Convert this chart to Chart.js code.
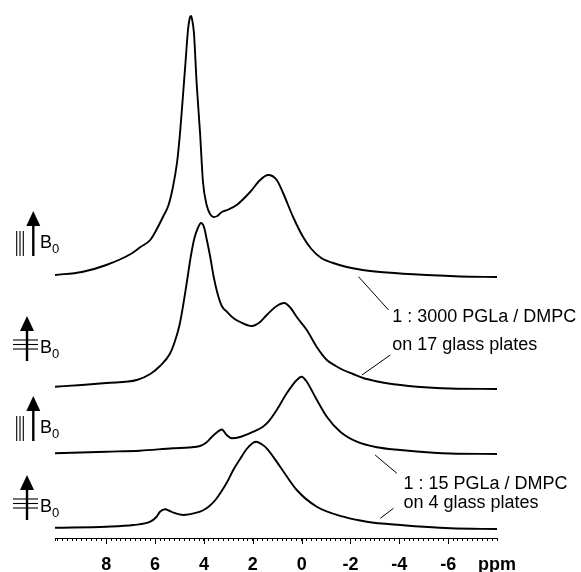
<!DOCTYPE html>
<html>
<head>
<meta charset="utf-8">
<script src="https://cdn.jsdelivr.net/npm/chart.js@4.4.1/dist/chart.umd.min.js"></script>
<style>
html,body{margin:0;padding:0;background:#fff;}
#wrap{width:581px;height:572px;position:relative;}
</style>
</head>
<body>
<div id="wrap"><canvas id="c"></canvas></div>
<script>
// ---- Data (chemical shift in ppm, intensity in arbitrary units above each trace's baseline) ----
// Trace 1 (top): 1:3000 PGLa/DMPC, membrane normal parallel to B0
const ppm1 = [10.1, 9.0, 8.0, 7.0, 6.6, 6.2, 5.93, 5.68, 5.45, 5.27, 5.1, 4.98, 4.87, 4.77, 4.65, 4.59, 4.53, 4.49, 4.41, 4.30, 4.16, 4.04, 3.89, 3.75, 3.6, 3.45, 3.27, 3.05, 2.66, 2.11, 1.70, 1.37, 1.02, 0.76, 0.35, -0.06, -0.4, -0.8, -1.29, -1.85, -2.5, -3.22, -4.57, -6.5, -8.0];
const int1 = [2, 5, 12, 23, 30, 37, 48, 60, 72, 90, 115, 144, 178, 210, 248, 258, 261, 258, 244, 194, 144, 95, 72, 63, 60, 61, 65, 67, 72, 85, 97, 102, 97, 84, 60, 40, 28, 19, 14, 10, 7, 5, 2.7, 0.5, 0];
// Trace 2: 1:3000 PGLa/DMPC, membrane normal perpendicular to B0
const ppm2 = [10.1, 9.0, 8.0, 6.75, 6.2, 5.8, 5.4, 5.2, 5.0, 4.85, 4.7, 4.55, 4.4, 4.25, 4.12, 4.0, 3.89, 3.75, 3.6, 3.45, 3.27, 3.05, 2.8, 2.52, 2.04, 1.7, 1.43, 1.02, 0.72, 0.45, 0.2, -0.21, -0.62, -1.03, -1.4, -1.7, -2.1, -2.52, -3.0, -3.49, -4.72, -6.09, -8.0];
const int2 = [2.3, 4, 6, 9, 15, 23, 35, 47, 64, 84, 107, 131, 150, 161, 166, 162, 150, 133, 112, 96, 83, 77, 71, 67, 63, 67, 74, 83, 86, 81, 72, 59, 42, 29, 23, 19, 15, 11, 8, 5.7, 2.3, 0.5, 0];
// Trace 3: 1:15 PGLa/DMPC, parallel
const ppm3 = [10.1, 8.0, 6.62, 5.27, 4.6, 4.16, 3.9, 3.7, 3.45, 3.27, 3.07, 2.85, 2.52, 1.98, 1.6, 1.36, 1.02, 0.61, 0.2, 0.0, -0.21, -0.55, -1.03, -1.58, -2.26, -3.08, -4.04, -5.4, -6.09, -8.0];
const int3 = [0.7, 2.3, 3.3, 5.7, 6.5, 8, 11.5, 16.5, 22, 24.5, 19, 15.7, 17, 22.3, 27, 32.3, 44, 60.7, 74, 77.3, 72.3, 57.3, 37.3, 22.3, 12.3, 6.7, 4, 1.3, 0.5, 0];
// Trace 4 (bottom): 1:15 PGLa/DMPC, perpendicular
const ppm4 = [10.1, 8.0, 6.89, 6.2, 5.95, 5.8, 5.59, 5.4, 5.25, 4.84, 4.3, 4.05, 3.8, 3.55, 3.3, 3.05, 2.8, 2.52, 2.25, 2.0, 1.86, 1.65, 1.43, 0.88, 0.2, -0.62, -1.71, -2.67, -4.04, -6.09, -8.0];
const int4 = [1.3, 2.3, 4, 7.3, 12, 17.3, 19.7, 18, 16.3, 14, 16.3, 18.5, 22.5, 28.5, 37, 47, 59, 70, 80, 86, 87.3, 85, 80.7, 62.3, 39, 22.3, 12.3, 7.3, 4, 0.7, 0];

// vertical stacking of the four spectra (arbitrary units)
const stackOffsets = [261, 149, 84, 9];
const orientations = ['par', 'perp', 'par', 'perp'];

// axis
const xMin = -8.0, xMax = 10.1;
const xTickStep = 0.2;
const xTickLabels = [8, 6, 4, 2, 0, -2, -4, -6];
const unitTickValue = -8;
const unitLabel = 'ppm';

// sample annotations
const sampleText1 = ['1 : 3000 PGLa / DMPC', 'on 17 glass plates'];
const sampleText2 = ['1 : 15 PGLa / DMPC', 'on 4 glass plates'];

// ---- Build ----
const ppmSets = [ppm1, ppm2, ppm3, ppm4];
const intSets = [int1, int2, int3, int4];
const datasets = ppmSets.map((p, k) => ({
  data: p.map((x, i) => ({x: x, y: intSets[k][i] + stackOffsets[k]})),
  borderColor: '#000',
  borderWidth: 1.9,
  pointRadius: 0,
  fill: false,
  cubicInterpolationMode: 'monotone'
}));

const FONT = '"Liberation Sans", Arial, Helvetica, sans-serif';

// annotation geometry in data space (ppm, a.u.)
const leaders = [
  [[-2.33, 261.3], [-3.56, 228]],
  [[-2.47, 163], [-3.63, 183]],
  [[-3.01, 83], [-3.90, 64.7]],
  [[-3.22, 19.7], [-3.76, 29.7]]
];
const textAnchors = [
  {x: -3.71, ys: [216, 188], lines: sampleText1},
  {x: -4.17, ys: [48.7, 29.7], lines: sampleText2}
];
const symbolBase = [290, 185, 105, 26];

function drawB0(ctx, type, xl, yb) {
  ctx.save();
  ctx.fillStyle = '#000';
  ctx.strokeStyle = '#000';
  const sx = type === 'par' ? xl - 21.7 : xl - 28;
  ctx.beginPath();
  ctx.moveTo(sx, yb - 37);
  ctx.lineTo(sx - 7, yb - 22);
  ctx.lineTo(sx + 7, yb - 22);
  ctx.closePath();
  ctx.fill();
  ctx.lineWidth = 2.4;
  ctx.beginPath();
  ctx.moveTo(sx, yb - 24);
  ctx.lineTo(sx, yb + 8);
  ctx.stroke();
  ctx.lineWidth = 1.1;
  if (type === 'par') {
    [-16.6, -13.3, -10].forEach(dx => {
      ctx.beginPath();
      ctx.moveTo(sx + dx, yb - 17);
      ctx.lineTo(sx + dx, yb + 8);
      ctx.stroke();
    });
  } else {
    [-13, -8.5, -4].forEach(dy => {
      ctx.beginPath();
      ctx.moveTo(xl - 42, yb + dy);
      ctx.lineTo(xl - 17, yb + dy);
      ctx.stroke();
    });
  }
  ctx.textBaseline = 'alphabetic';
  ctx.textAlign = 'left';
  ctx.font = '18px ' + FONT;
  ctx.fillText('B', xl - 15, yb);
  ctx.font = '13px ' + FONT;
  ctx.fillText('0', xl - 3, yb + 5);
  ctx.restore();
}

const annotPlugin = {
  id: 'annot',
  afterDraw(chart) {
    const ctx = chart.ctx;
    const xs = chart.scales.x, ys = chart.scales.y;
    const area = chart.chartArea;
    ctx.save();
    // longer major ticks
    ctx.strokeStyle = '#000';
    ctx.lineWidth = 1;
    xTickLabels.forEach(v => {
      const px = Math.round(xs.getPixelForValue(v)) + 0.5;
      ctx.beginPath();
      ctx.moveTo(px, area.bottom);
      ctx.lineTo(px, area.bottom + 6);
      ctx.stroke();
    });
    // leader lines
    ctx.lineWidth = 1;
    leaders.forEach(([a, b]) => {
      ctx.beginPath();
      ctx.moveTo(xs.getPixelForValue(a[0]), ys.getPixelForValue(a[1]));
      ctx.lineTo(xs.getPixelForValue(b[0]), ys.getPixelForValue(b[1]));
      ctx.stroke();
    });
    // sample text
    ctx.fillStyle = '#000';
    ctx.font = '18px ' + FONT;
    ctx.textAlign = 'left';
    ctx.textBaseline = 'alphabetic';
    textAnchors.forEach(t => {
      t.lines.forEach((s, i) => {
        ctx.fillText(s, xs.getPixelForValue(t.x), ys.getPixelForValue(t.ys[i]));
      });
    });
    ctx.restore();
    // B0 orientation symbols
    orientations.forEach((o, k) => drawB0(ctx, o, area.left, ys.getPixelForValue(symbolBase[k])));
  }
};

new Chart(document.getElementById('c'), {
  type: 'line',
  data: {datasets: datasets},
  options: {
    responsive: true,
    maintainAspectRatio: false,
    animation: false,
    devicePixelRatio: 1,
    layout: {padding: {left: 55, right: 84, top: 10, bottom: 0}},
    plugins: {legend: {display: false}, tooltip: {enabled: false}},
    scales: {
      x: {
        type: 'linear',
        reverse: true,
        min: xMin,
        max: xMax,
        bounds: 'data',
        afterFit: function (scale) { scale.height = 34; },
        border: {display: true, color: '#000', width: 1},
        grid: {drawOnChartArea: false, drawTicks: true, tickLength: 3, tickColor: '#000', tickWidth: 1},
        ticks: {
          stepSize: xTickStep,
          autoSkip: false,
          includeBounds: true,
          maxRotation: 0,
          minRotation: 0,
          padding: 17,
          color: '#000',
          font: {family: FONT, size: 18, weight: 'bold', lineHeight: 0.78},
          callback: function (value) {
            if (Math.abs(value - unitTickValue) < 1e-6) return unitLabel;
            const r = Math.round(value);
            if (Math.abs(value - r) < 1e-6 && xTickLabels.includes(r)) return String(r);
            return '';
          }
        }
      },
      y: {display: false, min: 0, max: 528}
    }
  },
  plugins: [annotPlugin]
});
</script>
</body>
</html>
